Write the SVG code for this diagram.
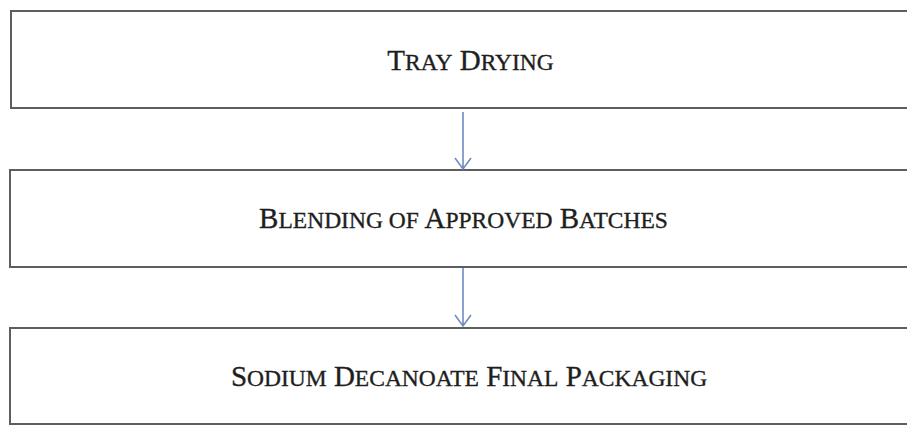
<svg xmlns="http://www.w3.org/2000/svg" width="907" height="425" viewBox="0 0 907 425">
<style>
.box{fill:#fff;stroke:#5e5e5e;stroke-width:2}
.lbl{font-family:"Liberation Serif","Times New Roman",serif;fill:#1e1e1e;stroke:#1e1e1e;stroke-width:0.35;font-size:29px;text-anchor:middle}
.sc{font-size:23.5px}
.conn{stroke:#6f8cc0;stroke-width:1.6;fill:none}
</style>
<rect width="907" height="425" fill="#fff"/>
<g id="n1">
<rect class="box" x="11" y="11" width="920" height="97"/>
<text class="lbl" x="470.5" y="70">T<tspan class="sc">RAY</tspan> D<tspan class="sc">RYING</tspan></text>
</g>
<g id="n2">
<rect class="box" x="10" y="170" width="920" height="97"/>
<text class="lbl" x="463.5" y="228">B<tspan class="sc">LENDING OF</tspan> A<tspan class="sc">PPROVED</tspan> B<tspan class="sc">ATCHES</tspan></text>
</g>
<g id="n3">
<rect class="box" x="10" y="328" width="920" height="96"/>
<text class="lbl" x="469" y="386">S<tspan class="sc">ODIUM</tspan> D<tspan class="sc">ECANOATE</tspan> F<tspan class="sc">INAL</tspan> P<tspan class="sc">ACKAGING</tspan></text>
</g>
<g id="connectors">
<path class="conn" d="M463 112V169M455 158L463 169L471 158"/>
<path class="conn" d="M463 268V326M455 315L463 326L471 315"/>
</g>
</svg>
